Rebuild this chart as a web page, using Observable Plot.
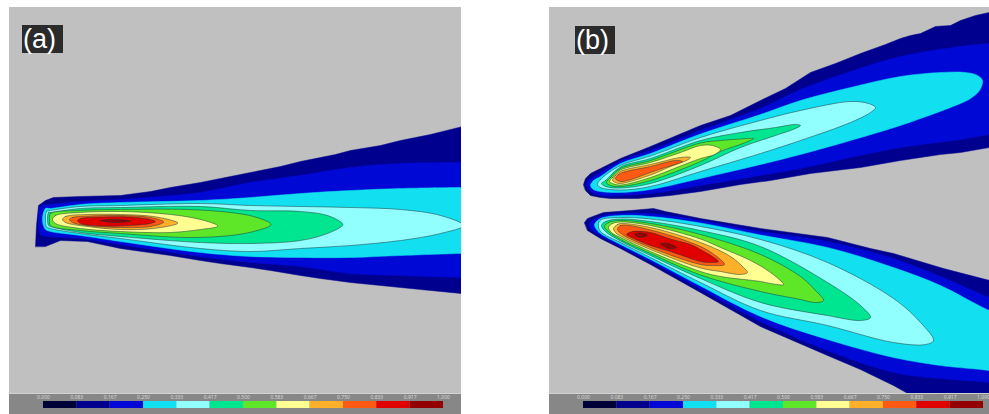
<!DOCTYPE html>
<html><head><meta charset="utf-8">
<script src="https://cdn.jsdelivr.net/npm/d3@7"></script>
<script src="https://cdn.jsdelivr.net/npm/@observablehq/plot@0.6"></script>
<style>
body{margin:0;background:#fff;}
#root{position:relative;width:989px;height:414px;overflow:hidden;font-family:"Liberation Sans",Arial,sans-serif;}
.panel{position:absolute;top:7px;}
.panel svg{display:block;}
.strip{border-top:1px solid #d2d2d2;height:20px;background:#878787;}
.tag{position:absolute;background:#2b2b2b;color:#fff;font-size:27px;line-height:28px;height:28px;box-sizing:border-box;padding-left:1px;}
</style></head><body><div id="root"></div>
<script>
// ---- colour bar (12 classes) and its tick labels ----
const cbColors = ["#000038","#00008e","#0008d6","#12e0f0","#92ffff","#00e690","#5ee628","#ffff92","#ffb02a","#ff5a14","#e00000","#920000"];
const cbTicks = ["0.000","0.083","0.167","0.250","0.333","0.417","0.500","0.583","0.667","0.750","0.833","0.917","1.000"];

// ---- contour polygons, flat [x, r, x, r, ...]; x = axial distance, r = radial position (0.1 mm) ----
// panel (a)
const a1 = [26,-46, 27,-25, 29,-5, 36,0, 44,3, 71,4, 111,5, 141,9, 161,13, 191,18, 211,22, 241,28, 271,34, 291,39, 311,43, 326,46, 341,50, 371,55, 391,60, 421,66, 461,76, 461,-95, 452,-93, 421,-90, 391,-87, 341,-82, 311,-78, 291,-75, 261,-70, 241,-67, 211,-63, 191,-60, 161,-55, 111,-48, 78,-41, 51,-40, 36,-46];
const a2 = [29,-22, 31,-6, 41,-4, 71,-1, 111,1, 151,4, 191,8, 241,18, 291,25, 341,33, 391,37, 452,38, 461,38, 461,-77, 452,-77, 391,-75, 341,-73, 291,-66, 241,-62, 191,-56, 111,-44, 71,-38, 41,-36, 31,-34];
const a3 = [33,-20, 36,-8, 41,-8, 71,-4, 111,-2, 191,0, 241,3, 291,7, 341,10, 391,12, 452,13, 461,13, 461,-53, 452,-53, 391,-55, 341,-57, 291,-57, 241,-56, 191,-52, 111,-41, 71,-35, 41,-31, 36,-29];
const a4 = [36,-19, 37,-11, 41,-10, 71,-6, 111,-5, 191,-3, 241,-5, 291,-6, 341,-7, 391,-9, 431,-15, 454,-25, 431,-33, 391,-40, 341,-45, 291,-48, 241,-51, 191,-48, 111,-38, 71,-33, 41,-28, 37,-26];
const a5 = [38,-19, 39,-12, 41,-12, 71,-8, 111,-7, 191,-6, 241,-10, 291,-11, 318,-15, 333,-23, 333,-25, 318,-33, 291,-40, 241,-43, 191,-42, 111,-36, 71,-32, 41,-26, 39,-25];
const a6 = [40,-19, 41,-13, 71,-10, 111,-9, 178,-9, 221,-12, 244,-16, 261,-23, 261,-25, 244,-31, 221,-35, 178,-37, 111,-33, 71,-30, 41,-25];
const a7 = [43,-19, 46,-15, 71,-12, 111,-11, 161,-14, 191,-19, 208,-25, 208,-26, 191,-29, 161,-32, 111,-31, 71,-28, 46,-23];
const a8 = [53,-19, 56,-16, 78,-14, 111,-14, 144,-16, 168,-22, 168,-23, 144,-28, 111,-29, 78,-26, 56,-22];
const a9 = [60,-19, 63,-17, 81,-15.5, 111,-15, 141,-17, 154,-21, 154,-22, 141,-26, 111,-27, 81,-25.5, 63,-22];
const a10 = [68,-20, 71,-18, 91,-16.5, 121,-16.5, 141,-19, 146,-21, 141,-23, 121,-25, 91,-25.5, 71,-23];
const a11 = [91,-20, 106,-19, 121,-20.5, 106,-22];
// panel (b), upper jet
const bu1 = [34,16, 36,22, 41,27, 51,32, 71,42, 101,54, 151,75, 181,85, 211,100, 236,112, 261,128, 286,137, 311,147, 336,156, 351,162, 361,165, 371,167, 386,174, 401,175, 411,180, 426,185, 440,188, 451,190, 451,55, 440,53, 411,48, 391,46, 351,40, 311,33, 261,27, 221,20, 191,16, 151,9, 121,5, 88,2, 61,2, 51,3, 41,5, 36,10];
const bu2 = [37,16, 39,20, 46,25, 51,28, 71,39.5, 101,50, 151,70, 211,92, 251,111, 301,129, 351,144, 411,154, 440,157, 451,158, 451,68, 440,66, 411,61, 351,53, 301,43, 251,32, 211,25, 151,15, 101,7, 71,5, 51,5, 43,8, 39,12];
const bu3 = [41,15, 44,20, 51,24, 71,37, 101,47, 151,66.5, 211,86, 251,100, 301,113, 351,124, 391,128, 416,128, 428,125, 433,120, 430,110, 421,102, 411,97, 351,75, 301,60, 251,46, 211,36, 151,22, 101,11, 71,8, 51,9, 44,11];
const bu4 = [48,16, 51,21, 71,35, 101,44.5, 151,63, 211,80, 251,90, 301,99, 319,97, 326,93, 321,88, 301,78, 251,60, 211,47, 151,29, 101,14, 71,10.5, 51,13];
const bu5 = [52,17, 56,20, 71,33.5, 101,42, 151,60, 191,68, 226,73, 246,76, 251,75, 246,72, 226,65, 191,53, 151,35, 101,17, 71,12.5, 56,14];
const bu6 = [57,18, 61,23, 71,32, 101,40, 151,57.5, 171,60, 191,61.5, 204,62, 196,58, 171,49, 151,39, 101,20, 71,14, 61,15];
const bu7 = [60,19, 63,23, 71,30.5, 101,38, 131,48, 151,55, 163,55, 171,51, 165,46, 151,42, 131,34.5, 101,23, 71,15.5, 63,17];
const bu8 = [63,20, 66,25, 71,29.2, 101,36, 131,43, 141,43, 137,40, 121,34, 101,25.5, 71,17, 66,18];
const bu9 = [66,22, 69,26, 73,28, 101,34, 126,40, 133,39, 127,36.5, 111,31.5, 101,28, 73,19, 68,20];
// panel (b), lower jet
const bl1 = [35,-22, 38,-18, 54,-12, 81,-10, 104,-8, 116,-11, 151,-18, 211,-28, 278,-37, 321,-48, 344,-53, 394,-68, 440,-80, 451,-83, 451,-220, 371,-200, 344,-185, 311,-169, 278,-155, 211,-126, 151,-92, 101,-64, 71,-48, 51,-38, 38,-30];
const bl2 = [40,-23, 51,-16, 71,-13, 101,-13, 151,-20, 211,-31, 278,-41, 344,-58, 391,-76, 440,-97, 451,-100, 451,-184, 440,-182, 391,-178, 344,-172, 278,-150, 211,-121, 151,-88.5, 101,-61, 71,-46, 51,-35, 43,-30];
const bl3 = [45,-24, 51,-18, 71,-15, 101,-16, 151,-22.5, 211,-34.5, 278,-47, 344,-67, 391,-85, 440,-110, 451,-113, 451,-172, 440,-170, 391,-165, 344,-157, 278,-139, 211,-116, 151,-85.5, 101,-59, 71,-44, 51,-33, 47,-29];
const bl4 = [49,-24, 51,-19.5, 71,-17, 101,-18.5, 151,-26, 211,-39, 278,-62, 344,-98, 371,-122, 384,-140, 376,-144, 344,-142, 278,-125, 211,-110, 151,-82, 101,-57, 71,-42, 51,-31];
const bl5 = [52,-25, 56,-21, 71,-18.5, 101,-21, 151,-30, 211,-46, 278,-82, 311,-105, 321,-117, 311,-120, 278,-115, 211,-102, 151,-78, 101,-55, 71,-40.5, 56,-31];
const bl6 = [55,-26, 59,-22, 71,-20, 101,-23, 151,-34, 211,-54, 251,-76, 266,-90, 274,-100, 266,-102, 251,-99, 211,-91, 151,-74.5, 101,-53, 71,-39, 59,-31];
const bl7 = [59,-27, 63,-23, 71,-21.5, 101,-25, 151,-38.5, 171,-47, 201,-60, 221,-72, 234,-84, 221,-83, 211,-81, 171,-76, 151,-71, 101,-51, 71,-37, 62,-32];
const bl8 = [64,-28, 68,-24, 71,-23, 101,-27, 151,-42, 181,-56, 193,-66, 198,-72, 191,-74, 171,-71, 151,-67.5, 101,-49, 71,-35.5, 66,-32];
const bl9 = [68,-29, 71,-25, 101,-29.5, 151,-46, 166,-55, 175,-64, 163,-65, 151,-64, 101,-47, 73,-34];
const bl10 = [77,-34, 83,-31, 101,-32, 121,-38.5, 141,-44, 151,-49, 163,-56, 169,-61, 159,-62, 151,-61, 141,-58, 121,-51, 101,-45, 83,-37.5];
const bl11a = [85,-34, 91,-32.5, 98,-34.5, 91,-37];
const bl11b = [111,-43, 119,-43, 127,-47, 119,-48];

// contour level index (into cbColors) of each polygon
const levelsA = [[1,a1],[2,a2],[3,a3],[4,a4],[5,a5],[6,a6],[7,a7],[8,a8],[9,a9],[10,a10],[11,a11]];
const levelsB = [[1,bu1],[2,bu2],[3,bu3],[4,bu4],[5,bu5],[6,bu6],[7,bu7],[8,bu8],[9,bu9],
                 [1,bl1],[2,bl2],[3,bl3],[4,bl4],[5,bl5],[6,bl6],[7,bl7],[8,bl8],[9,bl9],[10,bl10],[11,bl11a],[11,bl11b]];

const pairs = flat => d3.range(0, flat.length, 2).map(i => [flat[i], flat[i + 1]]);

function contourPlot(W, levels) {
  return Plot.plot({
    width: W, height: 386, margin: 0,
    x: {domain: [0, W], axis: null},
    y: {domain: [-193, 193], axis: null},
    style: {background: "#c0c0c0"},
    marks: levels.map(([lvl, flat]) => Plot.line(pairs(flat), {
      fill: cbColors[lvl],
      stroke: lvl >= 4 ? "#1e3838" : cbColors[lvl],
      strokeWidth: lvl >= 4 ? 0.6 : 0.5,
      strokeOpacity: lvl >= 4 ? 0.85 : 1,
      curve: lvl === 1 ? "linear-closed" : "catmull-rom-closed",
      clip: true
    }))
  });
}

function colorbar(W) {
  const segs = cbColors.map((c, i) => ({lo: i / 12, hi: (i + 1) / 12, c}));
  return Plot.plot({
    width: W, height: 20, marginTop: 0, marginBottom: 0, marginLeft: 34, marginRight: W - 434,
    x: {domain: [0, 1], axis: null},
    color: {type: "identity"},
    style: {background: "#878787", overflow: "visible"},
    marks: [
      Plot.barX(segs, {x1: "lo", x2: "hi", fill: "c", insetTop: 7, insetBottom: 6}),
      Plot.text(cbTicks, {x: (d, i) => i / 12, text: d => d, frameAnchor: "top", lineAnchor: "top", dy: 1, fontSize: 5, fill: "#d8d8d8"})
    ]
  });
}

const root = document.getElementById("root");
function addPanel(left, W, levels, tag, tagLeft, tagTop, tagW) {
  const p = document.createElement("div");
  p.className = "panel";
  p.style.left = left + "px";
  p.style.width = W + "px";
  p.appendChild(contourPlot(W, levels));
  const s = document.createElement("div");
  s.className = "strip";
  s.appendChild(colorbar(W));
  p.appendChild(s);
  root.appendChild(p);
  const t = document.createElement("div");
  t.className = "tag";
  t.textContent = tag;
  t.style.left = tagLeft + "px";
  t.style.top = tagTop + "px";
  t.style.width = tagW + "px";
  root.appendChild(t);
}
addPanel(9, 452, levelsA, "(a)", 22, 25, 41);
addPanel(549, 440, levelsB, "(b)", 575, 26, 40);
</script>
</body></html>
